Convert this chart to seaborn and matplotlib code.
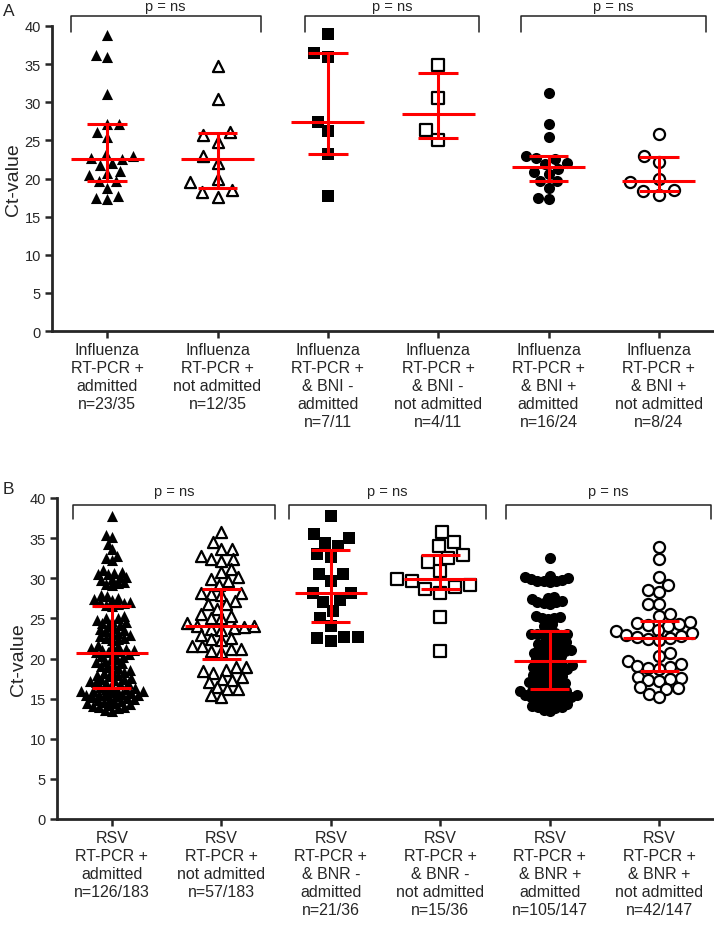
import numpy as np
import pandas as pd
import seaborn as sns
import matplotlib.pyplot as plt

# ---- data (Ct values) ----
flu_labels = [
    "Influenza\nRT-PCR +\nadmitted\nn=23/35",
    "Influenza\nRT-PCR +\nnot admitted\nn=12/35",
    "Influenza\nRT-PCR +\n& BNI -\nadmitted\nn=7/11",
    "Influenza\nRT-PCR +\n& BNI -\nnot admitted\nn=4/11",
    "Influenza\nRT-PCR +\n& BNI +\nadmitted\nn=16/24",
    "Influenza\nRT-PCR +\n& BNI +\nnot admitted\nn=8/24",
]
flu_admitted = [38.8, 36.2, 35.9, 31.1, 27.2, 27.1, 26.1, 25.5, 22.6, 23.0, 23.2, 22.7,
                21.8, 22.0, 20.7, 20.4, 21.0, 19.7, 19.7, 18.75, 17.7, 17.3, 17.4]
flu_not_admitted = [34.7, 30.4, 26.1, 25.7, 24.8, 23.0, 22.0, 19.9, 19.5, 18.5, 18.2, 17.6]
flu_bni_neg_admitted = [39.0, 36.4, 36.0, 27.4, 26.2, 23.2, 17.7]
flu_bni_neg_not_admitted = [34.9, 30.5, 26.3, 25.0]
flu_bni_pos_admitted = [31.2, 27.1, 25.5, 22.5, 21.9, 23.0, 22.0, 22.7, 20.8, 21.2, 20.6,
                        19.7, 19.7, 18.8, 17.3, 17.4]
flu_bni_pos_not_admitted = [25.8, 23.0, 22.1, 19.9, 19.5, 18.5, 18.3, 17.8]

rsv_labels = [
    "RSV\nRT-PCR +\nadmitted\nn=126/183",
    "RSV\nRT-PCR +\nnot admitted\nn=57/183",
    "RSV\nRT-PCR +\n& BNR -\nadmitted\nn=21/36",
    "RSV\nRT-PCR +\n& BNR -\nnot admitted\nn=15/36",
    "RSV\nRT-PCR +\n& BNR +\nadmitted\nn=105/147",
    "RSV\nRT-PCR +\n& BNR +\nnot admitted\nn=42/147",
]
rsv_admitted = [
    37.7, 35.4, 35.2, 34.3, 33.7, 32.8, 32.5, 32.3,
    31.0, 30.8, 30.7, 30.5, 30.5, 30.2, 30.1, 29.9, 29.8, 29.5, 29.4, 29.3, 29.1,
    27.9, 27.8, 27.6, 27.4, 27.3, 27.1, 27.0, 26.9, 26.8, 26.7, 26.5,
    25.3, 25.1, 25.0, 24.8, 24.7, 24.5, 24.4, 24.2, 24.1,
    23.8, 23.7, 23.5, 23.4, 23.2, 23.1, 22.9, 22.8, 22.6, 22.5, 22.4, 22.3,
    21.7, 21.6, 21.5, 21.3, 21.2, 21.1, 21.0, 20.9, 20.8, 20.8,
    20.6, 20.5, 20.3, 20.2, 20.0, 19.9, 19.7, 19.6, 19.4, 19.3, 19.1, 19.0,
    18.8, 18.6, 18.5, 18.3, 18.2, 18.0, 17.9, 17.8, 17.6, 17.5, 17.4, 17.3, 17.2,
    17.1, 17.0, 16.9, 16.8, 16.6, 16.5,
    16.3, 16.2, 16.2, 16.1, 16.0, 15.9, 15.9, 15.8, 15.7, 15.6, 15.6, 15.5, 15.4, 15.4,
    15.3, 15.2,
    15.1, 15.0, 14.9, 14.8, 14.7, 14.6, 14.5, 14.4, 14.3, 14.2, 14.1, 14.0, 13.9, 13.8,
    13.6, 13.5,
]
rsv_not_admitted = [
    35.8, 34.5, 33.7, 33.7, 32.8, 32.4, 32.4, 32.2, 31.2, 30.8, 30.1, 29.9, 29.7, 29.1,
    28.2, 28.2, 28.0, 27.9, 27.2, 26.8, 26.8, 26.2, 25.6, 25.3, 25.1, 25.1,
    24.4, 24.1, 24.0, 23.9, 23.8, 23.7, 23.6, 22.9, 22.6, 22.4, 22.3,
    21.6, 21.6, 21.2, 21.2, 20.9, 20.8, 19.0, 19.0, 18.6, 18.4, 18.2,
    17.7, 17.5, 17.3, 17.1, 16.4, 16.2, 16.2, 15.4, 15.2,
]
rsv_bnr_neg_admitted = [37.7, 35.5, 35.0, 34.4, 34.0, 33.0, 32.6, 30.5, 30.5, 29.7, 28.2,
                        28.2, 27.3, 27.1, 25.9, 25.1, 24.0, 22.7, 22.7, 22.6, 22.2]
rsv_bnr_neg_not_admitted = [35.8, 34.5, 34.0, 32.9, 32.5, 32.0, 30.9, 29.9, 29.7, 29.1,
                            28.9, 28.7, 28.2, 25.2, 20.9]
rsv_bnr_pos_admitted = [
    32.5, 30.3, 30.1, 30.0, 29.9, 29.8, 29.7, 29.6, 29.6, 29.5,
    27.7, 27.5, 27.4, 27.2, 27.1, 27.0, 26.9, 26.8, 25.3, 25.2, 25.1, 25.0, 24.9,
    24.3, 24.0, 23.6, 23.2, 23.1, 23.0, 23.0, 22.9, 22.9, 22.8,
    22.4, 22.2, 22.1, 21.9, 21.8, 21.6, 21.5, 21.3, 21.2, 21.0, 20.9, 20.7, 20.6, 20.5,
    20.4, 20.3, 20.0, 19.9, 19.8, 19.7,
    19.4, 19.3, 19.2, 19.1, 19.0, 18.9, 18.8, 18.7, 18.6, 18.5,
    18.3, 18.2, 18.0, 17.9, 17.8, 17.6, 17.5, 17.4, 17.2, 17.1, 17.0, 16.9, 16.8, 16.7,
    16.6, 16.4,
    16.0, 15.9, 15.9, 15.8, 15.7, 15.6, 15.5, 15.5, 15.4, 15.3, 15.2, 15.2, 15.1, 15.0,
    14.9, 14.7, 14.6, 14.5, 14.3, 14.2, 14.1, 14.0, 13.9, 13.8, 13.6, 13.5,
]
rsv_bnr_pos_not_admitted = [
    33.9, 32.4, 30.1, 29.1, 28.5, 28.3, 26.8, 26.8, 25.5, 25.3, 24.5, 24.4, 24.3, 24.2,
    24.1, 23.6, 23.4, 23.2, 22.9, 22.8, 22.7, 22.5, 22.4, 22.3, 20.7, 20.3, 19.7, 19.3,
    19.1, 19.0, 18.8, 18.7, 17.7, 17.6, 17.5, 17.3, 17.2, 16.4, 16.3, 16.2, 15.6, 15.2,
]

flu_groups = [flu_admitted, flu_not_admitted, flu_bni_neg_admitted,
              flu_bni_neg_not_admitted, flu_bni_pos_admitted, flu_bni_pos_not_admitted]
rsv_groups = [rsv_admitted, rsv_not_admitted, rsv_bnr_neg_admitted,
              rsv_bnr_neg_not_admitted, rsv_bnr_pos_admitted, rsv_bnr_pos_not_admitted]

MARKERS = ["^", "^", "s", "s", "o", "o"]
FILLED = [True, False, True, False, True, False]
MARKER_SIZE = 8

sns.set_style("ticks")
plt.rcParams["font.family"] = ["Liberation Sans", "DejaVu Sans"]


def draw_panel(ax, labels, groups, swarm_sizes, brackets, bracket_y, text_y):
    df = pd.DataFrame({
        "group": np.repeat(labels, [len(g) for g in groups]),
        "ct": np.concatenate(groups),
    })
    for lab, marker, filled, sz in zip(labels, MARKERS, FILLED, swarm_sizes):
        sub = df[df["group"] == lab]
        if filled:
            sns.swarmplot(data=sub, x="group", y="ct", order=labels, ax=ax,
                          marker=marker, size=sz, color="black", linewidth=0)
        else:
            sns.swarmplot(data=sub, x="group", y="ct", order=labels, ax=ax,
                          marker=marker, size=sz, color="white",
                          edgecolor="black", linewidth=1.6)

    # median with interquartile range
    for i, lab in enumerate(labels):
        vals = df.loc[df["group"] == lab, "ct"]
        q1, med, q3 = np.percentile(vals, [25, 50, 75], method="weibull")
        kw = dict(color="red", lw=2.2, zorder=5, solid_capstyle="butt")
        ax.plot([i - 0.33, i + 0.33], [med, med], **kw)
        ax.plot([i - 0.18, i + 0.18], [q1, q1], **kw)
        ax.plot([i - 0.18, i + 0.18], [q3, q3], **kw)
        ax.plot([i, i], [q1, q3], **kw)

    y_bot, y_top = bracket_y
    for x0, x1 in brackets:
        ax.plot([x0, x0, x1, x1], [y_bot, y_top, y_top, y_bot], color="#222222",
                lw=1.1, clip_on=False)
        ax.text((x0 + x1) / 2, text_y, "p = ns", ha="center", va="center",
                fontsize=10.5)

    ax.set_xlim(-0.5, 5.5)
    ax.set_ylim(0, 40)
    ax.set_yticks(range(0, 41, 5))
    ax.set_xticks(range(6))
    ax.set_xticklabels(labels, fontsize=11.5, linespacing=1.25)
    ax.set_xlabel("")
    ax.set_ylabel("Ct-value", fontsize=14, labelpad=2)
    ax.tick_params(axis="both", width=1.8, length=5, labelsize=10.5, pad=3)
    ax.tick_params(axis="x", labelsize=11.5)
    for side in ["left", "bottom"]:
        ax.spines[side].set_linewidth(2)
    sns.despine(ax=ax)


fig = plt.figure(figsize=(7.14, 9.29), dpi=100)
ax_a = fig.add_axes([52 / 714, 1 - 332 / 929, 662 / 714, 305 / 929])
ax_b = fig.add_axes([57 / 714, 1 - 820 / 929, 657 / 714, 321 / 929])

draw_panel(ax_a, flu_labels, flu_groups, [7.8, 9.5, 9.5, 9.5, 7.5, 9.5],
           [(-0.33, 1.39), (1.79, 3.37), (3.75, 5.43)], (39.2, 41.3), 42.6)
draw_panel(ax_b, rsv_labels, rsv_groups, [4.4, 5.5, 9.5, 9, 4.3, 6],
           [(-0.35, 1.49), (1.62, 3.42), (3.6, 5.47)], (37.4, 39.15), 40.9)

fig.text(3 / 714, 1 - 12 / 929, "A", fontsize=12.5, va="center")
fig.text(3 / 714, 1 - 489 / 929, "B", fontsize=12.5, va="center")

# lay the swarms out with the per-group spacing above, then freeze them and
# draw every marker at the same size (dense groups overlap like the original)
fig.canvas.draw()
for ax in (ax_a, ax_b):
    for coll in ax.collections:
        if "draw" in vars(coll):
            del coll.draw
        coll.set_sizes([MARKER_SIZE ** 2])

fig.savefig("out.png", dpi=100)
